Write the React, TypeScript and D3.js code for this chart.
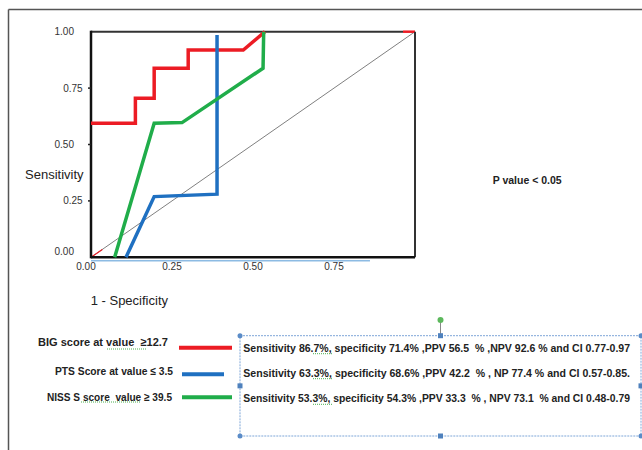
import * as React from 'react';
import * as d3 from 'd3';

// ROC curve points (x = 1 - specificity, y = sensitivity)
const bigFpr = [0, 0.137, 0.137, 0.195, 0.195, 0.3, 0.3, 0.47, 0.537];
const bigSens = [0.594, 0.594, 0.705, 0.705, 0.838, 0.838, 0.919, 0.919, 1.0];
const ptsFpr = [0.108, 0.195, 0.389, 0.389];
const ptsSens = [0, 0.269, 0.28, 0.985];
const nissFpr = [0.073, 0.195, 0.281, 0.531, 0.533];
const nissSens = [0, 0.594, 0.597, 0.838, 1.0];
// red bits of the reference line that show at both ends
const refRedFpr = [[0, 0.035], [0.963, 1]];
const refRedSens = [[0, 0.035], [1, 1]];

const xTicks = [0, 0.25, 0.5, 0.75];
const yTicks = [0, 0.25, 0.5, 0.75, 1];

const legendLabels = ['BIG score at value  \u226512.7', 'PTS Score at value \u2264 3.5', 'NISS S score  value \u2265 39.5'];
const statLines = [
  'Sensitivity 86.7%, specificity 71.4% ,PPV 56.5  % ,NPV 92.6 % and CI 0.77-0.97',
  'Sensitivity 63.3%, specificity 68.6% ,PPV 42.2  % , NP 77.4 % and CI 0.57-0.85.',
  'Sensitivity 53.3%, specificity 54.3% ,PPV 33.3  % , NPV 73.1  % and CI 0.48-0.79',
];
const colors = ['#ec1c24', '#1f70c1', '#20ad4a'];

const calibri = '"Liberation Sans", Arial, sans-serif';
const arial = '"Liberation Sans", Arial, sans-serif';

// squeezes a text horizontally so it spans `width` px (stand-in for Calibri)
function FitText(props: { x: number; y: number; width: number; children: string; size?: number }) {
  const ref = React.useRef<SVGTextElement>(null);
  const [sx, setSx] = React.useState(0.8);
  React.useLayoutEffect(() => {
    if (ref.current) {
      const w = ref.current.getComputedTextLength();
      if (w > 0) setSx(props.width / w);
    }
  }, [props.width, props.children]);
  return (
    <text
      ref={ref}
      transform={`translate(${props.x},${props.y}) scale(${sx},1)`}
      dominantBaseline="central"
      fontFamily={calibri}
      fontWeight="bold"
      fontSize={props.size || 11.5}
      fill="#222"
      style={{ whiteSpace: 'pre' }}
    >
      {props.children}
    </text>
  );
}

export default function App() {
  const x = d3.scaleLinear().domain([0, 1]).range([91, 415]);
  const y = d3.scaleLinear().domain([0, 1]).range([257.3, 31.7]);

  const line = d3
    .line<[number, number]>()
    .x(d => x(d[0]))
    .y(d => y(d[1]));

  const zip = (a: number[], b: number[]) => a.map((v, i) => [v, b[i]] as [number, number]);
  const curves = [zip(bigFpr, bigSens), zip(ptsFpr, ptsSens), zip(nissFpr, nissSens)];

  // legend / text box layout
  const legendY = [342.3, 370.7, 396.7];
  const legendX = [38, 55, 47];
  const legendW = [130, 118, 125];
  const swatch = [
    [179, 232, 347.7],
    [182, 224, 374.3],
    [182, 232, 397.3],
  ];
  const boxLineY = [347.7, 372.7, 398.3];
  const box = { x0: 240, x1: 641, y0: 335.7, y1: 436 };
  const midX = (box.x0 + box.x1) / 2;
  const midY = (box.y0 + box.y1) / 2;

  return (
    <svg width={642} height={450} style={{ position: 'absolute', left: 0, top: 0, background: '#fff' }}>
      {/* outer frame */}
      <line x1={8.5} x2={642} y1={9.5} y2={9.5} stroke="#555" strokeWidth={1.5} />
      <line x1={8.5} x2={8.5} y1={9.5} y2={450} stroke="#555" strokeWidth={1.5} />

      {/* light blue line under axis */}
      <line x1={x(0)} x2={x(0.861)} y1={260.7} y2={260.7} stroke="#8dbbe3" strokeWidth={1.5} />

      {/* diagonal reference */}
      <line x1={x(0)} y1={y(0)} x2={x(1)} y2={y(1)} stroke="#808080" strokeWidth={1} />
      {refRedFpr.map((f, i) => (
        <path key={'r' + i} d={line(zip(f, refRedSens[i])) || ''} fill="none" stroke={colors[0]} strokeWidth={i ? 2.5 : 1.2} />
      ))}

      {/* frame of the plot */}
      <line x1={x(0)} x2={x(0.963)} y1={y(1)} y2={y(1)} stroke="#333" strokeWidth={2} />
      <line x1={x(1)} x2={x(1)} y1={y(1)} y2={y(0)} stroke="#333" strokeWidth={2} />
      <line x1={x(0)} x2={x(1)} y1={y(0)} y2={y(0)} stroke="#111" strokeWidth={2.5} />
      <line x1={x(0)} x2={x(0)} y1={y(1) - 1} y2={y(0) + 1} stroke="#111" strokeWidth={2.5} />

      {/* curves */}
      {curves.map((c, i) => (
        <path key={'c' + i} d={line(c) || ''} fill="none" stroke={colors[i]} strokeWidth={3.5} strokeLinejoin="miter" />
      ))}

      {/* y ticks */}
      {yTicks.map((t, i) => (
        <g key={'y' + t}>
          {t > 0 && t < 1 && <line x1={x(0) - 3} x2={x(0)} y1={y(t)} y2={y(t)} stroke="#222" strokeWidth={1.5} />}
          <text
            x={i % 2 ? 82.7 : 74}
            y={t === 0 ? y(t) - 6 : y(t)}
            textAnchor="end"
            dominantBaseline="central"
            fontFamily={arial}
            fontSize={10}
            fill="#333"
          >
            {t.toFixed(2)}
          </text>
        </g>
      ))}

      {/* x ticks */}
      {xTicks.map(t => (
        <text
          key={'x' + t}
          x={t === 0 ? x(t) - 5 : x(t)}
          y={266.7}
          textAnchor="middle"
          dominantBaseline="central"
          fontFamily={arial}
          fontSize={10}
          fill="#333"
        >
          {t.toFixed(2)}
        </text>
      ))}

      <text x={25} y={174.3} dominantBaseline="central" fontFamily={arial} fontSize={13} fill="#222">
        Sensitivity
      </text>
      <text x={90.7} y={300} dominantBaseline="central" fontFamily={arial} fontSize={13} fill="#222">
        1 - Specificity
      </text>

      <FitText x={492.7} y={180} width={69}>
        P value &lt; 0.05
      </FitText>

      {/* legend */}
      {legendLabels.map((l, i) => (
        <g key={'l' + i}>
          <FitText x={legendX[i]} y={legendY[i]} width={legendW[i]}>
            {l}
          </FitText>
          <line x1={swatch[i][0]} x2={swatch[i][1]} y1={swatch[i][2]} y2={swatch[i][2]} stroke={colors[i]} strokeWidth={4} />
        </g>
      ))}
      {/* spell-check squiggles */}
      <line x1={107} x2={146} y1={349} y2={349} stroke="#4caf50" strokeWidth={1} strokeDasharray="1,1" />
      <line x1={81} x2={141} y1={402} y2={402} stroke="#4caf50" strokeWidth={1} strokeDasharray="1,1" />

      {/* text box */}
      <rect x={box.x0} y={box.y0} width={box.x1 - box.x0} height={box.y1 - box.y0} fill="none" stroke="#7ea6d8" strokeWidth={1} strokeDasharray="2,1" />
      <line x1={midX} x2={midX} y1={320} y2={box.y0} stroke="#888" strokeWidth={1} />
      <circle cx={midX} cy={320} r={3} fill="#5cb85c" />
      {[
        [box.x0, box.y0],
        [box.x1, box.y0],
        [box.x0, box.y1],
        [box.x1, box.y1],
      ].map((p, i) => (
        <circle key={'h' + i} cx={p[0]} cy={p[1]} r={2.5} fill="#5b8cc8" />
      ))}
      {[
        [midX, box.y0],
        [midX, box.y1],
        [box.x0, midY],
        [box.x1, midY],
      ].map((p, i) => (
        <rect key={'s' + i} x={p[0] - 2.5} y={p[1] - 2.5} width={5} height={5} fill="#4f81bd" />
      ))}
      {statLines.map((s, i) => (
        <g key={'t' + i}>
          <FitText x={243.3} y={boxLineY[i]} width={387}>
            {s}
          </FitText>
          <line x1={313} x2={332} y1={boxLineY[i] + 6} y2={boxLineY[i] + 6} stroke="#4caf50" strokeWidth={1} strokeDasharray="1,1" />
        </g>
      ))}
    </svg>
  );
}
